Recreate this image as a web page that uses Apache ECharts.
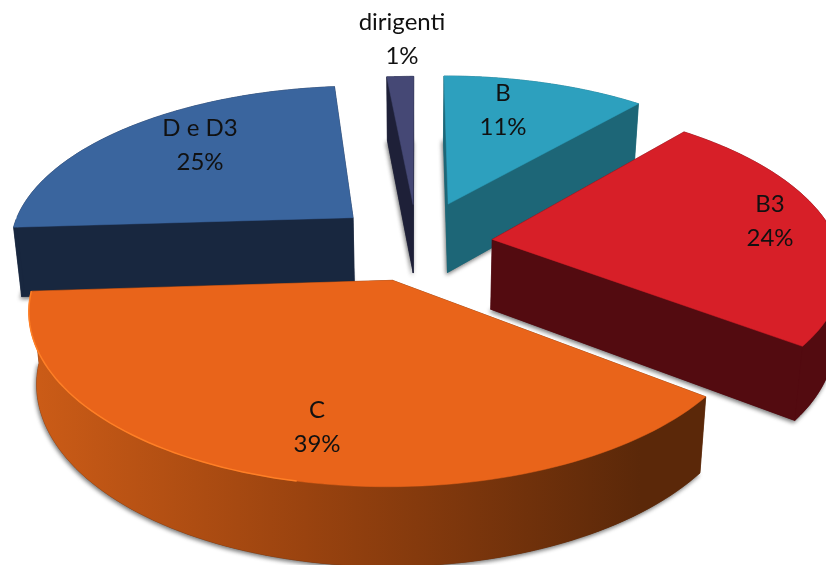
<!DOCTYPE html>
<html><head><meta charset="utf-8">
<style>html,body{margin:0;padding:0;background:#fff}#c{width:826px;height:565px}</style>
<script src="https://cdn.jsdelivr.net/npm/echarts@6/dist/echarts.min.js"></script>
</head><body><div id="c"></div>
<script>
// Data, clockwise from the top (labels show them rounded)
const categories = ['B', 'B3', 'C', 'D e D3', 'dirigenti'];
const values = [11.3, 24.1, 38.6, 24.5, 1.49];

// Style: one entry per category
const explode = [0.27, 0.22, 0.235, 0.25, 0.25];
const topColors = ['#2DA0BE', '#D71F28', '#E9641A', '#3A659E', '#454875'];
const wallColors = ['#1D6677', '#530B10', '#5B2809', '#18273F', '#1E2038'];
const labelAnchors = [[503, 110], [770, 221], [317, 427], [200, 145], [402, 39]];
const drawOrder = [4, 0, 3, 1, 2];

// Camera
const cam = {cx: 417, cy: 243, rx: 345, ry: 160, k: 0.16, lean: 0.02, depth: 70, grow: 0.04};
const total = values.reduce((a, b) => a + b, 0);

function projTop(u, v) {
  const w = 1 + cam.k * v;
  return [cam.cx + cam.rx * u / w, cam.cy - cam.ry * v / w];
}
function projBottom(p) {
  return [cam.cx + (p[0] - cam.cx) * (1 - cam.lean), p[1] + cam.depth + cam.grow * (p[1] - cam.cy)];
}

const chart = echarts.init(document.getElementById('c'), null, {renderer: 'canvas'});

function renderSlice(params, api) {
  const idx = api.value(0);
  let acc = 0;
  for (let i = 0; i < idx; i++) acc += values[i];
  const t0 = acc / total * 2 * Math.PI;
  const t1 = (acc + values[idx]) / total * 2 * Math.PI;
  const mid = (t0 + t1) / 2;
  const ou = explode[idx] * Math.sin(mid), ov = explode[idx] * Math.cos(mid);
  const at = t => projTop(ou + Math.sin(t), ov + Math.cos(t));
  const apex = projTop(ou, ov);
  const steps = 90;
  const ts = [];
  for (let i = 0; i <= steps; i++) ts.push(t0 + (t1 - t0) * i / steps);
  const arc = ts.map(at);
  const topPts = [apex].concat(arc);
  const botPts = topPts.map(projBottom);
  const color = topColors[idx], wall = wallColors[idx];
  const poly = (points, fill, extra) => ({type: 'polygon', silent: true,
    shape: {points}, style: Object.assign({fill, stroke: fill, lineWidth: 0.5}, extra || {})});
  const strip = list => {
    const a = list.map(at);
    return a.concat(a.map(projBottom).reverse());
  };
  const wallFill = categories[idx] === 'C'
    ? {type: 'linear', global: true, x: 30, y: 0, x2: 640, y2: 0, colorStops: [
        {offset: 0, color: '#CC5C17'}, {offset: 0.45, color: '#9A430F'}, {offset: 1, color: wall}]}
    : wall;
  const farT = ts.filter(t => Math.cos(t) >= 0);
  const nearT = ts.filter(t => Math.cos(t) <= 0);
  const cut = t => { const p = at(t); return {y: p[1], pts: [apex, p, projBottom(p), projBottom(apex)]}; };
  const cuts = [cut(t0), cut(t1)].sort((a, b) => a.y - b.y);
  const children = [];
  children.push(poly(botPts, wall, {shadowColor: 'rgba(0,0,0,0.55)', shadowBlur: 4, shadowOffsetX: -1, shadowOffsetY: 2}));
  if (farT.length > 1) children.push(poly(strip(farT), wallFill));
  cuts.forEach(c => children.push(poly(c.pts, wall)));
  if (nearT.length > 1) children.push(poly(strip(nearT), wallFill));
  children.push(poly(topPts, color));
  if (categories[idx] === 'C') {
    children.push({type: 'polyline', silent: true,
      shape: {points: ts.filter(t => Math.sin(t) < -0.2).map(at)},
      style: {stroke: '#FF7F26', lineWidth: 1.5, fill: null}});
  }
  const a = labelAnchors[idx];
  const pct = Math.round(values[idx] / total * 100) + '%';
  children.push({type: 'text', silent: true, z2: 100, style: {x: a[0], y: a[1],
    text: categories[idx] + '\n' + pct, fill: '#111', align: 'center', verticalAlign: 'middle',
    font: '24px Lato', lineHeight: 34}});
  return {type: 'group', children};
}

chart.setOption({
  animation: false,
  backgroundColor: '#fff',
  series: [{
    type: 'custom',
    coordinateSystem: 'none',
    clip: false,
    renderItem: renderSlice,
    encode: {},
    data: drawOrder.map(i => [i, values[i]])
  }]
});
</script></body></html>
